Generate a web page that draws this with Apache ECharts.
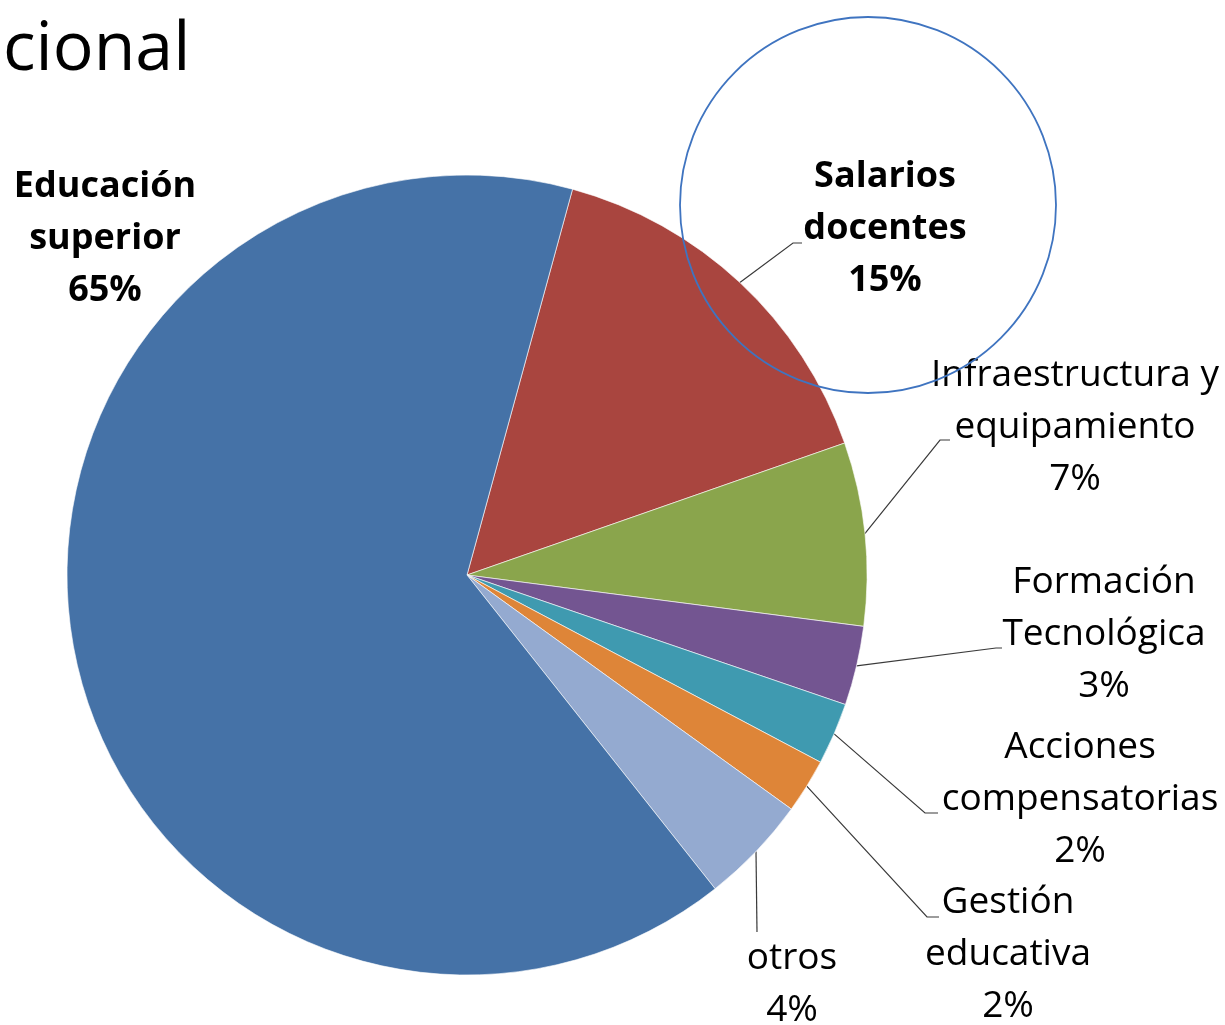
<!DOCTYPE html>
<html>
<head>
<meta charset="utf-8">
<script src="https://cdn.jsdelivr.net/npm/echarts@6/dist/echarts.min.js"></script>
<style>
  html, body { margin: 0; padding: 0; background: #fff; }
  #chart { width: 1225px; height: 1025px; }
</style>
</head>
<body>
<div id="chart"></div>
<script>
// data, clockwise from the top edge of "Salarios docentes"
var categories = ['Salarios\ndocentes', 'Infraestructura y\nequipamiento', 'Formación\nTecnológica',
    'Acciones\ncompensatorias', 'Gestión\neducativa', 'otros', 'Educación\nsuperior'];
var shares = [15.4, 7.4, 3.2, 2.5, 2.2, 4.4, 64.9];
var shownPct = ['15%', '7%', '3%', '2%', '2%', '4%', '65%'];

var sliceColors = ['#A9453F', '#8AA54C', '#735591', '#3F9AB0', '#DE8538', '#94AAD0', '#4572A7'];
var boldLabels = [true, false, false, false, false, false, true];

// where each label sits and how its leader line bends (start point comes from the pie)
var labelPlaces = [
    { x: 885, y: 229, line: [[793, 243], [802, 243]] },
    { x: 1075, y: 427, line: [[940, 440], [950, 440]] },
    { x: 1104, y: 634, line: [[996, 648], [1002, 648]] },
    { x: 1080, y: 799, line: [[925, 813], [938, 813]] },
    { x: 1008, y: 954, line: [[927, 917], [939, 917]] },
    { x: 792, y: 984, line: [[757, 932], [757, 932]] },
    { x: 105, y: 239, line: null }
];

var chart = echarts.init(document.getElementById('chart'));

var pieData = categories.map(function (name, i) {
    return {
        name: name,
        value: shares[i],
        itemStyle: { color: sliceColors[i] },
        label: { fontWeight: boldLabels[i] ? 'bold' : 'normal', fontSize: boldLabels[i] ? 36 : 37 },
        labelLine: { show: labelPlaces[i].line !== null }
    };
});

var option = {
    animation: false,
    backgroundColor: '#fff',
    title: {
        text: 'cional',
        left: -2,
        top: 12,
        textStyle: { fontFamily: 'Open Sans', fontSize: 68, fontWeight: 'normal', color: '#000' }
    },
    series: [{
        type: 'pie',
        center: [467, 575],
        radius: 400,
        startAngle: 74.7,
        clockwise: true,
        avoidLabelOverlap: false,
        itemStyle: { borderColor: 'rgba(255,255,255,0.6)', borderWidth: 1 },
        label: {
            show: true,
            position: 'outside',
            color: '#000',
            fontFamily: 'Open Sans',
            lineHeight: 52,
            formatter: function (p) {
                return p.name + '\n' + shownPct[p.dataIndex];
            }
        },
        labelLine: {
            show: true,
            lineStyle: { color: '#3a3a3a', width: 1.2 }
        },
        labelLayout: function (params) {
            var place = labelPlaces[params.dataIndex];
            var res = { x: place.x, y: place.y, align: 'center', verticalAlign: 'middle' };
            if (place.line && params.labelLinePoints) {
                res.labelLinePoints = [params.labelLinePoints[0], place.line[0], place.line[1]];
            }
            return res;
        },
        emphasis: { disabled: true },
        data: pieData
    }],
    graphic: [{
        type: 'circle',
        z: 100,
        shape: { cx: 868, cy: 205, r: 188 },
        style: { fill: 'none', stroke: '#3F74C0', lineWidth: 1.8 }
    }]
};

chart.setOption(option);
window.addEventListener('resize', function () {
    chart.resize();
});
</script>
</body>
</html>
